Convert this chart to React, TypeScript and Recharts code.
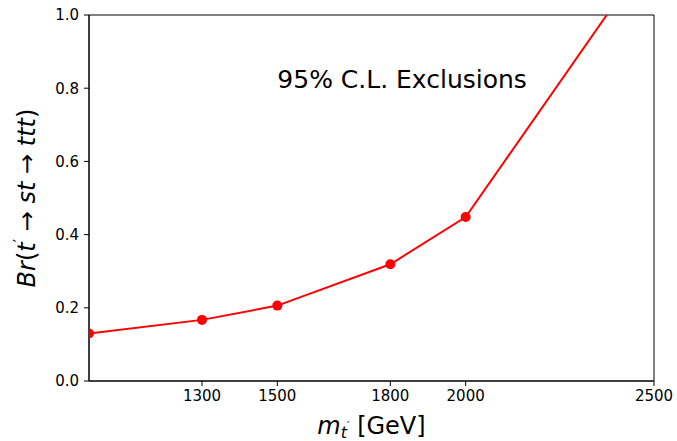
import { LineChart, Line, XAxis, YAxis, ReferenceDot, ReferenceArea } from 'recharts';

const masses = [1000, 1300, 1500, 1800, 2000, 2500];
const brLimits = [0.13, 0.167, 0.206, 0.319, 0.448, 1.185];
const xTicks = [1300, 1500, 1800, 2000, 2500];
const yTicks = [0, 0.2, 0.4, 0.6, 0.8, 1.0];
const annotation = '95% C.L. Exclusions';

const data = masses.map((m, i) => ({ m, br: brLimits[i] }));

const FONT = '"DejaVu Sans", sans-serif';
const tickStyle = { fontSize: 15, fill: '#000', fontFamily: FONT };

const AnnotationLabel = ({ viewBox }: any) => {
    const x = viewBox.x + viewBox.width / 2;
    const y = viewBox.y + viewBox.height / 2;
    return (
        <text x={x} y={y} fontSize={25} fontFamily={FONT} fill="#000">
            {annotation}
        </text>
    );
};

const YLabel = ({ viewBox }: any) => {
    const cx = 35;
    const cy = viewBox.y + viewBox.height / 2;
    return (
        <text
            x={cx}
            y={cy}
            transform={`rotate(-90, ${cx}, ${cy})`}
            textAnchor="middle"
            fontSize={24}
            fontFamily={FONT}
            fill="#000"
        >
            <tspan fontStyle="italic">Br</tspan>
            <tspan>(</tspan>
            <tspan fontStyle="italic">t</tspan>
            <tspan fontSize={15} dy={-10}>′</tspan>
            <tspan dy={10}> → </tspan>
            <tspan fontStyle="italic">st</tspan>
            <tspan> → </tspan>
            <tspan fontStyle="italic">ttt</tspan>
            <tspan>)</tspan>
        </text>
    );
};

const XLabel = ({ viewBox }: any) => {
    const cx = viewBox.x + viewBox.width / 2;
    return (
        <text x={cx} y={434} textAnchor="middle" fontSize={24} fontFamily={FONT} fill="#000">
            <tspan fontStyle="italic">m</tspan>
            <tspan fontStyle="italic" fontSize={16} dy={4}>t</tspan>
            <tspan fontSize={11} dy={-9}>′</tspan>
            <tspan dy={5}> [GeV]</tspan>
        </text>
    );
};

export default function App() {
    return (
        <div style={{ position: 'absolute', left: 0, top: 0, width: 677, height: 441, background: '#fff' }}>
            <LineChart
                width={677}
                height={441}
                data={data}
                margin={{ top: 15, right: 23, left: 0, bottom: 0 }}
            >
                <XAxis
                    dataKey="m"
                    type="number"
                    domain={[1000, 2500]}
                    ticks={xTicks}
                    allowDataOverflow
                    height={60}
                    stroke="#000"
                    tickSize={5}
                    tickMargin={4}
                    tick={tickStyle}
                    label={<XLabel />}
                />
                <YAxis
                    type="number"
                    domain={[0, 1]}
                    ticks={yTicks}
                    allowDataOverflow
                    width={89}
                    stroke="#000"
                    tickSize={5}
                    tickMargin={5}
                    tick={tickStyle}
                    tickFormatter={(v: number) => v.toFixed(1)}
                    label={<YLabel />}
                />
                <ReferenceArea
                    x1={1000}
                    x2={2500}
                    y1={0}
                    y2={1}
                    fill="none"
                    stroke="#000"
                    strokeWidth={1}
                    fillOpacity={0}
                />
                <Line
                    type="linear"
                    dataKey="br"
                    stroke="#ff0000"
                    strokeWidth={2}
                    dot={{ r: 5, fill: '#ff0000', stroke: '#ff0000', strokeWidth: 0 }}
                    activeDot={false}
                    isAnimationActive={false}
                />
                <ReferenceDot
                    x={1500}
                    y={0.8}
                    r={0}
                    fill="none"
                    stroke="none"
                    label={<AnnotationLabel />}
                />
            </LineChart>
        </div>
    );
}
